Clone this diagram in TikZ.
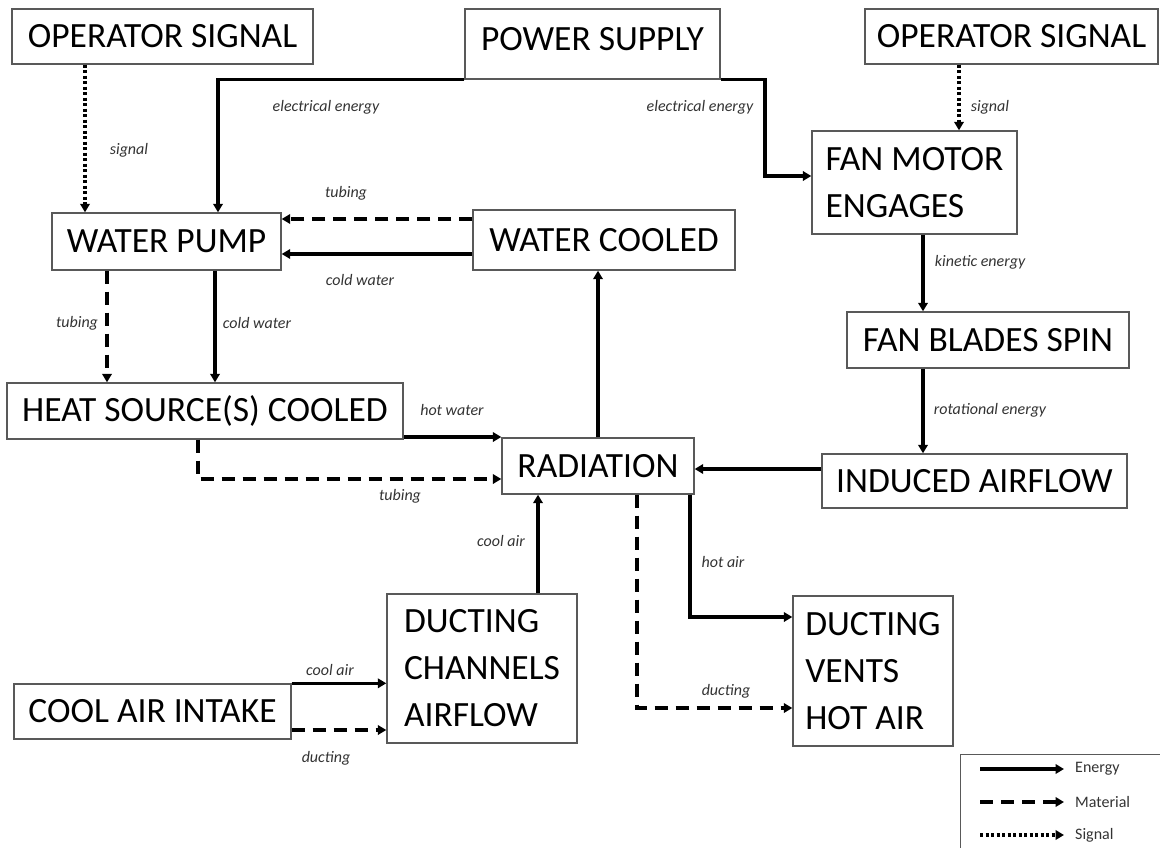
\documentclass[tikz,border=0pt]{standalone}
\usepackage{fontspec}
\setmainfont{Carlito}
\usetikzlibrary{arrows.meta}
\begin{document}
\begin{tikzpicture}[x=1pt,y=-1pt,
  box/.style={draw=black!65, line width=1.4pt, inner sep=0pt, text=black, font=\fontsize{35.5}{46}\selectfont},
  multi/.style={box, align=left, font=\fontsize{35.5}{47}\selectfont},
  lbl/.style={font=\fontsize{16}{19}\selectfont\itshape, text=black!80, inner sep=0pt},
  lgl/.style={font=\fontsize{16}{19}\selectfont, text=black!80, inner sep=0pt, anchor=west},
  en/.style={line width=3.2pt, -{Triangle[length=8.5pt,width=9.5pt]}},
  mat/.style={en, dash pattern=on 13pt off 8pt},
  sig/.style={en, dash pattern=on 3pt off 2.5pt}]
\useasboundingbox (0,0) rectangle (1160,848);

% boxes
\node[box, minimum width=301pt, minimum height=55pt] (opL) at (162.5,36.5) {OPERATOR SIGNAL};
\node[box, minimum width=255pt, minimum height=70pt, text depth=10pt] (pow) at (592.5,44) {POWER SUPPLY};
\node[box, minimum width=293pt, minimum height=55pt] (opR) at (1011.5,36.5) {OPERATOR SIGNAL};
\node[multi, minimum width=205pt, minimum height=103pt] (fan) at (914.5,182.5) {FAN MOTOR\\ENGAGES};
\node[box, minimum width=229pt, minimum height=57pt] (wp) at (166.5,241.5) {WATER PUMP};
\node[box, minimum width=262pt, minimum height=60pt] (wc) at (604,240) {WATER COOLED};
\node[box, minimum width=282pt, minimum height=56pt] (fb) at (988,340) {FAN BLADES SPIN};
\node[box, minimum width=396pt, minimum height=56pt] (hs) at (205,411) {HEAT SOURCE(S) COOLED};
\node[box, minimum width=192pt, minimum height=56pt] (rad) at (598,466) {RADIATION};
\node[box, minimum width=305pt, minimum height=54pt] (ind) at (974.5,481) {INDUCED AIRFLOW};
\node[multi, minimum width=190pt, minimum height=149pt] (dc) at (482,668.5) {DUCTING\\CHANNELS\\AIRFLOW};
\node[box, minimum width=277pt, minimum height=55pt] (cai) at (152.5,711.5) {COOL AIR INTAKE};
\node[multi, minimum width=160pt, minimum height=150pt] (dv) at (873,671) {DUCTING\\VENTS\\HOT AIR};

% connectors
\draw[sig] (85,0 |- opL.south) -- (85,0 |- wp.north);
\draw[en] (pow.south west) -| (218,0 |- wp.north);
\draw[en] (pow.south east) -| (765,176) -- (fan.west |- 765,176);
\draw[sig] (959,0 |- opR.south) -- (959,0 |- fan.north);
\draw[mat] (wc.west |- 0,219) -- (wp.east |- 0,219);
\draw[en] (wc.west |- 0,254) -- (wp.east |- 0,254);
\draw[mat] (107,0 |- wp.south) -- (107,0 |- hs.north);
\draw[en] (215,0 |- wp.south) -- (215,0 |- hs.north);
\draw[en] (923,0 |- fan.south) -- (923,0 |- fb.north);
\draw[en] (923,0 |- fb.south) -- (923,0 |- ind.north);
\draw[en] (hs.south east |- 0,437) -- (rad.west |- 0,437);
\draw[mat] (198,0 |- hs.south) |- (rad.west |- 0,479);
\draw[en] (598,0 |- rad.north) -- (598,0 |- wc.south);
\draw[en] (ind.west |- 0,469) -- (rad.east |- 0,469);
\draw[en] (538,0 |- dc.north) -- (538,0 |- rad.south);
\draw[mat] (637,0 |- rad.south) |- (dv.west |- 0,708);
\draw[en] (690,0 |- rad.south) |- (dv.west |- 0,617);
\draw[en] (cai.north east) -- (dc.west |- cai.north east);
\draw[mat] (cai.east |- 0,730) -- (dc.west |- 0,730);

% labels
\node[lbl] (l1) at (129,150) {signal};
\node[lbl] (l2) at (326,107) {electrical energy};
\node[lbl] (l3) at (700,107) {electrical energy};
\node[lbl] (l4) at (990,107) {signal};
\node[lbl] (l5) at (346,193) {tubing};
\node[lbl] (l6) at (360,280) {cold water};
\node[lbl] (l7) at (980,262) {kinetic energy};
\node[lbl] (l8) at (77,323) {tubing};
\node[lbl] (l9) at (257,323) {cold water};
\node[lbl] (l10) at (452,410) {hot water};
\node[lbl] (l11) at (400,496) {tubing};
\node[lbl] (l12) at (990,410) {rotational energy};
\node[lbl] (l13) at (501,541) {cool air};
\node[lbl] (l14) at (723,562) {hot air};
\node[lbl] (l15) at (726,691) {ducting};
\node[lbl] (l16) at (330,670) {cool air};
\node[lbl] (l17) at (326,758) {ducting};

% legend
\node[draw=black!65, line width=1.4pt, minimum width=210pt, minimum height=110pt, anchor=north west, inner sep=0pt] (leg) at (960,754) {};
\coordinate (e1) at (980,769); \coordinate (e2) at (1064,769);
\coordinate (m1) at (980,802); \coordinate (m2) at (1064,802);
\coordinate (s1) at (980,835); \coordinate (s2) at (1064,835);
\draw[en] (e1) -- (e2);
\draw[mat] (m1) -- (m2);
\draw[sig] (s1) -- (s2);
\node[lgl] (le) at (1075,769) {Energy};
\node[lgl] (lm) at (1075,802) {Material};
\node[lgl] (ls) at (1075,835) {Signal};
\end{tikzpicture}
\end{document}
